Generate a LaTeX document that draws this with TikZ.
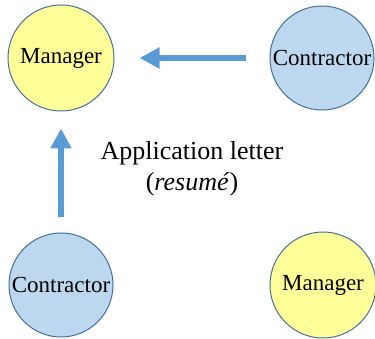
\documentclass[tikz,border=0pt]{standalone}
\usepackage{fontspec}
\setmainfont{Liberation Serif}
\usetikzlibrary{arrows.meta}
\definecolor{mgrfill}{RGB}{255,255,153}
\definecolor{confill}{RGB}{189,215,238}
\definecolor{rimblue}{RGB}{65,113,156}
\definecolor{arrowblue}{RGB}{91,155,213}
\begin{document}
\begin{tikzpicture}[x=1pt,y=-1pt]

\tikzset{mgrnode/.style={circle,minimum size=106pt,inner sep=0pt,draw=rimblue,line width=1pt,fill=mgrfill,font=\fontsize{23}{27}\selectfont},}
\tikzset{connode/.style={circle,minimum size=104pt,inner sep=0pt,draw=rimblue,line width=1pt,fill=confill,font=\fontsize{23}{27}\selectfont},}
\tikzset{fatarrow/.style={-{Triangle[width=20pt,length=20pt]},arrowblue,line width=6pt},}

  \useasboundingbox (0,0) rectangle (375,339);

  \draw (61,58) node[mgrnode](mgr1) {Manager};
  \draw (322,58) node[connode](con1) {Contractor};
  \draw (61,285) node[connode](con2) {Contractor};
  \draw (323,285) node[mgrnode](mgr2) {Manager};

  \draw (192,169) node[font=\fontsize{26}{31}\selectfont,align=center](letter) {Application letter\\(\textit{resumé})};

  %edges to the manager
    \draw[fatarrow, shorten <=24pt, shorten >=25pt] (con1) -- (mgr1);
    \draw[fatarrow, shorten <=15pt, shorten >=17pt] (con2) -- (mgr1);

\end{tikzpicture}
\end{document}
